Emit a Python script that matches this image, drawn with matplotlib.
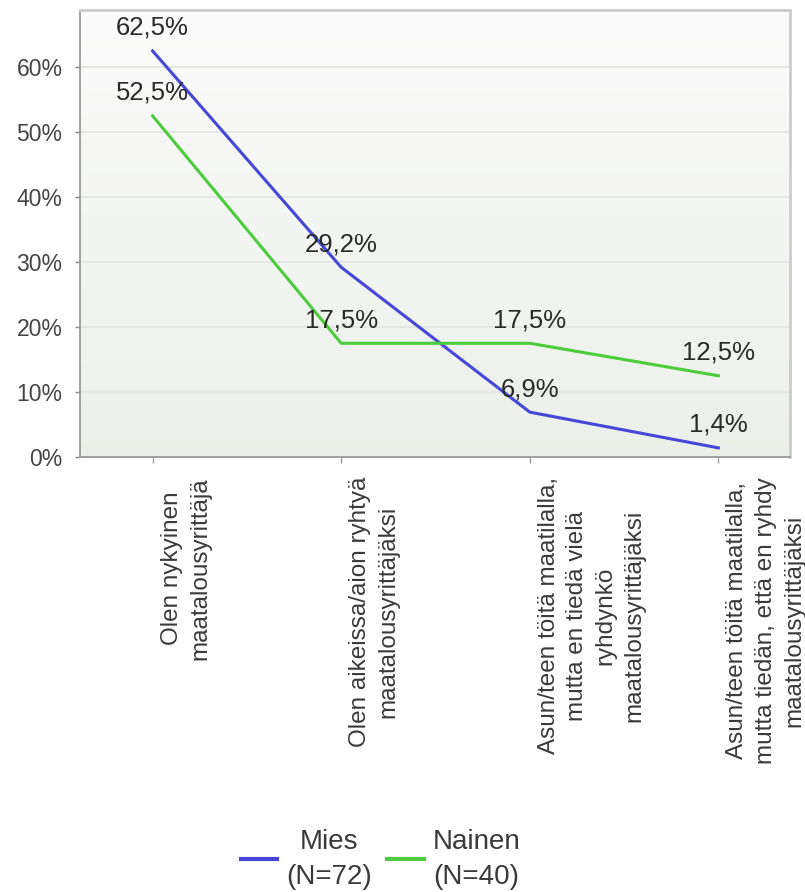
import numpy as np
import matplotlib
matplotlib.use("Agg")
import matplotlib.pyplot as plt
import matplotlib.transforms as mtransforms

plt.rcParams['font.family'] = ['Liberation Sans', 'DejaVu Sans']

categories = [
    "Olen nykyinen\nmaatalousyrittäjä",
    "Olen aikeissa/aion ryhtyä\nmaatalousyrittäjäksi",
    "Asun/teen töitä maatilalla,\nmutta en tiedä vielä\nryhdynkö\nmaatalousyrittäjäksi",
    "Asun/teen töitä maatilalla,\nmutta tiedän, että en ryhdy\nmaatalousyrittäjäksi",
]
mies = [62.5, 29.2, 6.9, 1.4]
nainen = [52.5, 17.5, 17.5, 12.5]
series_names = ["Mies\n(N=72)", "Nainen\n(N=40)"]
series_colors = ["#4646d8", "#4ccc3c"]
y_ticks = [0, 10, 20, 30, 40, 50, 60]

fig = plt.figure(figsize=(8.05, 8.92), dpi=100)
ax = fig.add_axes([0.0994, 0.4877, 0.882, 0.5011])

x = np.arange(len(categories))

# soft vertical gradient behind the plot area
grad = np.linspace(0, 1, 256).reshape(-1, 1)
top_c = np.array([0.985, 0.985, 0.985])
bot_c = np.array([0.925, 0.94, 0.915])
img = top_c * (1 - grad[..., None]) + bot_c * grad[..., None]
img = np.repeat(img, 2, axis=1)
ax.imshow(img, extent=[0, 1, 0, 1], transform=ax.transAxes, aspect='auto', zorder=0)

for yv in y_ticks[1:]:
    ax.axhline(yv, color='#e4e6e4', lw=1.3, zorder=1)

lines = []
for vals, name, col in zip([mies, nainen], series_names, series_colors):
    ln, = ax.plot(x, vals, color=col, lw=2.2, zorder=3, label=name)
    lines.append(ln)
    for xi, v in zip(x, vals):
        ax.annotate(f"{v:.1f}%".replace('.', ','), (xi, v), xytext=(0, 11.5),
                    textcoords='offset points', ha='center', va='baseline',
                    fontsize=18.5, color='#2a2a2a', zorder=4)

ax.set_xlim(-0.385, 3.38)
ax.set_ylim(0, 68.8)
ax.set_yticks(y_ticks)
ax.set_yticklabels([f"{v}%" for v in y_ticks])
ax.set_xticks(x)
ax.set_xticklabels(categories, rotation=90, ha='left', va='top',
                   multialignment='center', fontsize=17.5, color='#3a3a3a',
                   linespacing=1.38)
ax.tick_params(axis='y', labelsize=16.5, colors='#888888', labelcolor='#444444',
               length=3.6, width=1, pad=9)
ax.tick_params(axis='x', colors='#999999', labelcolor='#3a3a3a', length=4.5, width=1, pad=10)

# nudge category labels a little right of their ticks
shift = mtransforms.ScaledTranslation(8 / 100, 0, fig.dpi_scale_trans)
for lbl in ax.get_xticklabels():
    lbl.set_transform(lbl.get_transform() + shift)

for side in ['top', 'right']:
    ax.spines[side].set_color('#cccccc')
    ax.spines[side].set_linewidth(2)
for side in ['left', 'bottom']:
    ax.spines[side].set_color('#999999')
    ax.spines[side].set_linewidth(1.3)

leg = fig.legend(handles=lines, labels=series_names, loc='lower center',
                 bbox_to_anchor=(0.473, -0.013), ncol=2, frameon=False,
                 fontsize=20, handlelength=1.3, columnspacing=0.55,
                 handletextpad=0.32, borderpad=0)
for t in leg.get_texts():
    t.set_multialignment('center')
    t.set_linespacing(1.45)
    t.set_color('#3a3a3a')
for h in leg.get_lines():
    h.set_linewidth(3)

fig.savefig("out.png", dpi=100)
